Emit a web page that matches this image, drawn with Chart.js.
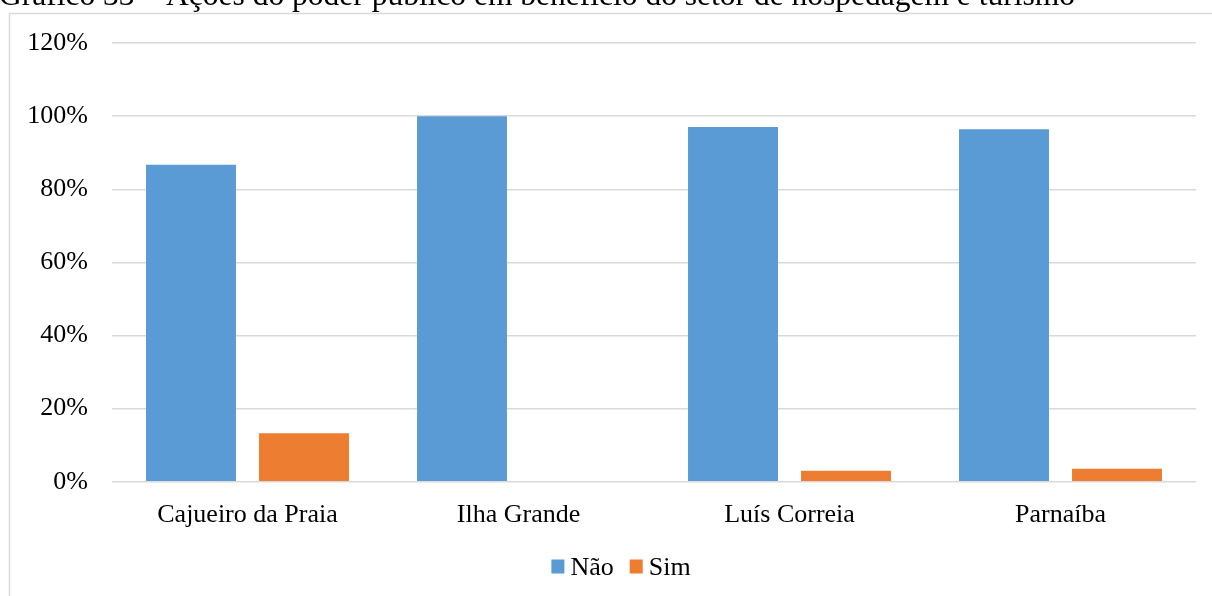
<!DOCTYPE html>
<html>
<head>
<meta charset="utf-8">
<script src="https://cdn.jsdelivr.net/npm/chart.js@4/dist/chart.umd.min.js"></script>
<style>
  html, body { margin: 0; padding: 0; background: #ffffff; }
  canvas { display: block; }
</style>
</head>
<body>
<canvas id="chart" width="1212" height="596"></canvas>
<script>
// Municípios pesquisados
const categories = ["Cajueiro da Praia", "Ilha Grande", "Luís Correia", "Parnaíba"];
// Percentual de respostas
const naoValues = [86.7, 100, 97.0, 96.4];
const simValues = [13.3, 0, 3.0, 3.6];
// Eixo vertical
const yTicks = [0, 20, 40, 60, 80, 100, 120];

const titleText = "Gráfico 33 – Ações do poder público em benefício do setor de hospedagem e turismo";
const serif = "'Liberation Serif', 'Times New Roman', serif";

// Caption above the frame and the light frame around the chart
const framePlugin = {
  id: 'frame',
  beforeDraw(chart) {
    const ctx = chart.ctx;
    ctx.save();
    ctx.fillStyle = '#ffffff';
    ctx.fillRect(0, 0, chart.width, chart.height);
    ctx.strokeStyle = '#d9d9d9';
    ctx.lineWidth = 1.5;
    ctx.strokeRect(9.5, 13.5, chart.width + 20, chart.height + 20);
    ctx.fillStyle = '#000000';
    ctx.font = "31.5px " + serif;
    ctx.textBaseline = 'alphabetic';
    ctx.fillText(titleText, -1, 5);
    ctx.restore();
  }
};

// Compact legend under the axis: square swatch, short gap, series name
const legendPlugin = {
  id: 'compactLegend',
  afterDraw(chart) {
    const ctx = chart.ctx;
    const box = 13, gap = 6, itemGap = 16;
    const centerX = 621, centerY = 567;
    ctx.save();
    ctx.font = "26px " + serif;
    ctx.textBaseline = 'middle';
    const items = chart.data.datasets.map(ds => ({
      label: ds.label, color: ds.backgroundColor, w: ctx.measureText(ds.label).width
    }));
    let total = items.reduce((s, it) => s + box + gap + it.w, 0) + itemGap * (items.length - 1);
    let x = centerX - total / 2;
    items.forEach(it => {
      ctx.fillStyle = it.color;
      ctx.fillRect(x, centerY - box / 2 - 1, box, box + 1);
      ctx.fillStyle = '#000000';
      ctx.fillText(it.label, x + box + gap, centerY + 1);
      x += box + gap + it.w + itemGap;
    });
    ctx.restore();
  }
};

new Chart(document.getElementById('chart'), {
  type: 'bar',
  data: {
    labels: categories,
    datasets: [
      { label: 'Não', data: naoValues, backgroundColor: '#5B9BD5' },
      { label: 'Sim', data: simValues, backgroundColor: '#ED7D31' }
    ]
  },
  options: {
    responsive: false,
    animation: false,
    devicePixelRatio: 1,
    categoryPercentage: 0.834,
    barPercentage: 0.796,
    layout: { padding: { top: 43, left: 9, right: 16, bottom: 47 } },
    scales: {
      x: {
        grid: { display: false, drawTicks: false },
        border: { display: false },
        ticks: {
          color: '#000000',
          font: { family: serif, size: 26 },
          padding: 18,
          maxRotation: 0
        }
      },
      y: {
        min: 0,
        max: 120,
        afterBuildTicks(scale) {
          scale.ticks = yTicks.map(v => ({ value: v }));
        },
        afterFit(scale) { scale.width = 103; },
        grid: { color: '#d9d9d9', lineWidth: 1.5, drawTicks: false },
        border: { display: false },
        ticks: {
          color: '#000000',
          font: { family: serif, size: 26 },
          padding: 24,
          callback: v => v + '%'
        }
      }
    },
    plugins: {
      legend: { display: false },
      tooltip: { enabled: false }
    }
  },
  plugins: [framePlugin, legendPlugin]
});
</script>
</body>
</html>
